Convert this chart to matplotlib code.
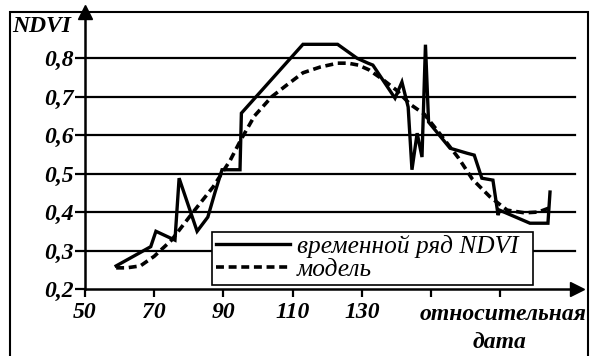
import matplotlib
matplotlib.use("Agg")
import matplotlib.pyplot as plt
from matplotlib.patches import Rectangle

# временной ряд NDVI (сплошная линия)
ndvi_day = [59, 69, 70.5, 76, 77.2, 82.4, 85.5, 87.6, 89.6, 94.8, 95.2, 113, 123,
            128.6, 131.8, 133.2, 139.6, 141.6, 143.4, 144.5, 146, 147.4, 148.4,
            149.3, 155.5, 160.4, 162.5, 164.7, 167.9, 169.4, 169.8, 178.6, 183.8,
            184.4]
ndvi_val = [0.26, 0.31, 0.35, 0.327, 0.488, 0.35, 0.387, 0.452, 0.51, 0.51, 0.657,
            0.836, 0.836, 0.80, 0.787, 0.782, 0.696, 0.738, 0.673, 0.51, 0.605,
            0.543, 0.835, 0.634, 0.566, 0.553, 0.548, 0.488, 0.483, 0.392, 0.405,
            0.371, 0.371, 0.452]

# модель (пунктир)
model_day = [59, 62, 66, 70, 75, 81, 87, 92, 95, 99, 104, 108, 113, 118, 123, 126,
             129, 132, 136, 140, 144, 148, 152, 155, 158, 162, 167, 172, 177, 181, 184]
model_val = [0.255, 0.255, 0.26, 0.285, 0.327, 0.397, 0.465, 0.535, 0.587, 0.65,
             0.70, 0.728, 0.762, 0.777, 0.787, 0.787, 0.782, 0.77, 0.745, 0.717,
             0.68, 0.655, 0.61, 0.575, 0.54, 0.485, 0.44, 0.405, 0.398, 0.40, 0.41]

x_ticks = [50, 70, 90, 110, 130, 150, 170]
x_labels = ["50", "70", "90", "110", "130", "", ""]
y_ticks = [0.2, 0.3, 0.4, 0.5, 0.6, 0.7, 0.8]
y_labels = ["0,2", "0,3", "0,4", "0,5", "0,6", "0,7", "0,8"]

W, H = 590, 356
fig = plt.figure(figsize=(W / 100, H / 100), dpi=100)
fig.patch.set_facecolor("white")
ax = fig.add_axes([85 / W, (H - 289) / H, (577 - 85) / W, (289 - 12) / H])
ax.set_xlim(50, 192.2)
ax.set_ylim(0.2, 0.92)

font = dict(family="Liberation Serif", style="italic", weight="bold", size=17)

for s in ["top", "right"]:
    ax.spines[s].set_visible(False)
for s in ["left", "bottom"]:
    ax.spines[s].set_linewidth(1.8)

# сетка
for v in y_ticks[1:]:
    ax.plot([50, 191.5], [v, v], color="black", lw=1.6, zorder=1)

ax.plot(ndvi_day, ndvi_val, color="black", lw=2.4, solid_joinstyle="miter",
        label="временной ряд NDVI", zorder=3)
ax.plot(model_day, model_val, color="black", lw=2.6, ls=(0, (2.2, 1.3)),
        label="модель", zorder=2)

# стрелки осей
ax.plot(1, 0, ">k", ms=10, transform=ax.transAxes, clip_on=False)
ax.plot(0, 1, "^k", ms=10, transform=ax.transAxes, clip_on=False)

ax.set_xticks(x_ticks)
ax.set_xticklabels(x_labels, fontdict=font)
ax.set_yticks(y_ticks)
ax.set_yticklabels(y_labels, fontdict=font)
ax.tick_params(axis="x", length=5.5, width=1.6, pad=4)
ax.tick_params(axis="y", length=7, width=1.6, pad=1)

fig.text(42 / W, 1 - 26 / H, "NDVI", ha="center", va="center", **font)
fig.text(503 / W, 1 - 315 / H, "относительная", ha="center", va="center", **font)
fig.text(500 / W, 1 - 342 / H, "дата", ha="center", va="center", **font)

leg = ax.legend(loc="lower left", bbox_to_anchor=((212 - 85) / (577 - 85), (289 - 285) / 277,
                                                  (533 - 212) / (577 - 85), (285 - 226) / 277),
                mode="expand", borderaxespad=0, frameon=True, fancybox=False,
                edgecolor="black", framealpha=1, borderpad=0.15, labelspacing=0.0,
                handlelength=2.9, handletextpad=0.3,
                prop=dict(family="Liberation Serif", style="italic", size=18.3))
leg.get_frame().set_linewidth(1.2)
leg.set_zorder(5)

# рамка рисунка
fig.patches.append(Rectangle((10 / W, -0.05), (588 - 10) / W, 1.05 - 12 / H,
                             transform=fig.transFigure, fill=False, lw=1.5,
                             edgecolor="black"))

fig.savefig("out.png", dpi=100)
